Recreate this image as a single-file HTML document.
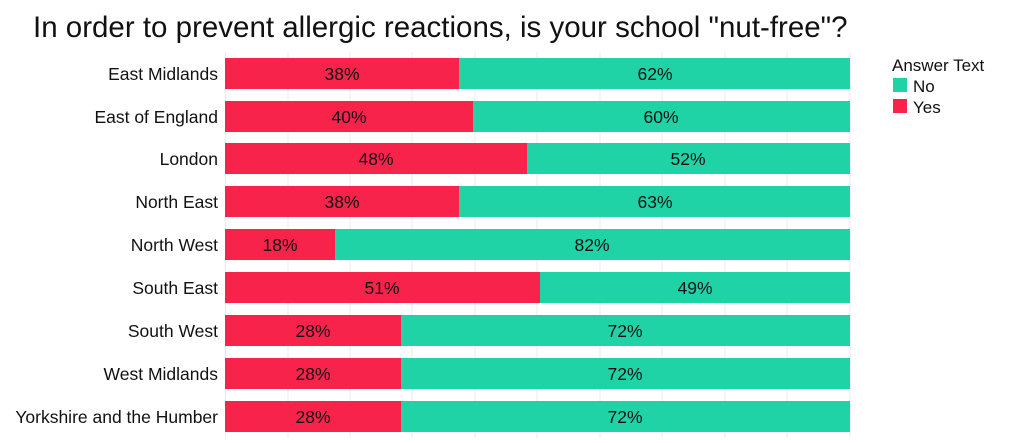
<!DOCTYPE html><html><head><style>body{margin:0;background:#fff;font-family:"Liberation Sans",sans-serif}</style></head><body>
<svg width="1031" height="438" xmlns="http://www.w3.org/2000/svg" font-family="Liberation Sans, sans-serif">
<text x="33" y="37" font-size="29.5" fill="#111">In order to prevent allergic reactions, is your school "nut-free"?</text>
<g stroke="#ebebeb" stroke-width="1">
<line x1="225.5" y1="52" x2="225.5" y2="438"/><line x1="288" y1="52" x2="288" y2="438"/><line x1="350" y1="52" x2="350" y2="438"/><line x1="412" y1="52" x2="412" y2="438"/><line x1="475" y1="52" x2="475" y2="438"/><line x1="537" y1="52" x2="537" y2="438"/><line x1="600" y1="52" x2="600" y2="438"/><line x1="662" y1="52" x2="662" y2="438"/><line x1="725" y1="52" x2="725" y2="438"/><line x1="787" y1="52" x2="787" y2="438"/><line x1="850" y1="52" x2="850" y2="438"/>
</g>
<g font-size="17.5" fill="#111">
<g transform="translate(0,58)"><rect x="225" width="234" height="31" fill="#F7234A"/><rect x="459" width="391" height="31" fill="#1FD3A6"/><text x="342" y="22" text-anchor="middle">38%</text><text x="655" y="22" text-anchor="middle">62%</text><text x="218" y="22" text-anchor="end">East Midlands</text></g>
<g transform="translate(0,101)"><rect x="225" width="248" height="31" fill="#F7234A"/><rect x="473" width="377" height="31" fill="#1FD3A6"/><text x="349" y="22" text-anchor="middle">40%</text><text x="661" y="22" text-anchor="middle">60%</text><text x="218" y="22" text-anchor="end">East of England</text></g>
<g transform="translate(0,143)"><rect x="225" width="302" height="31" fill="#F7234A"/><rect x="527" width="323" height="31" fill="#1FD3A6"/><text x="376" y="22" text-anchor="middle">48%</text><text x="688" y="22" text-anchor="middle">52%</text><text x="218" y="22" text-anchor="end">London</text></g>
<g transform="translate(0,186)"><rect x="225" width="234" height="31" fill="#F7234A"/><rect x="459" width="391" height="31" fill="#1FD3A6"/><text x="342" y="22" text-anchor="middle">38%</text><text x="655" y="22" text-anchor="middle">63%</text><text x="218" y="22" text-anchor="end">North East</text></g>
<g transform="translate(0,229)"><rect x="225" width="110" height="31" fill="#F7234A"/><rect x="335" width="515" height="31" fill="#1FD3A6"/><text x="280" y="22" text-anchor="middle">18%</text><text x="592" y="22" text-anchor="middle">82%</text><text x="218" y="22" text-anchor="end">North West</text></g>
<g transform="translate(0,272)"><rect x="225" width="315" height="31" fill="#F7234A"/><rect x="540" width="310" height="31" fill="#1FD3A6"/><text x="382" y="22" text-anchor="middle">51%</text><text x="695" y="22" text-anchor="middle">49%</text><text x="218" y="22" text-anchor="end">South East</text></g>
<g transform="translate(0,315)"><rect x="225" width="176" height="31" fill="#F7234A"/><rect x="401" width="449" height="31" fill="#1FD3A6"/><text x="313" y="22" text-anchor="middle">28%</text><text x="625" y="22" text-anchor="middle">72%</text><text x="218" y="22" text-anchor="end">South West</text></g>
<g transform="translate(0,358)"><rect x="225" width="176" height="31" fill="#F7234A"/><rect x="401" width="449" height="31" fill="#1FD3A6"/><text x="313" y="22" text-anchor="middle">28%</text><text x="625" y="22" text-anchor="middle">72%</text><text x="218" y="22" text-anchor="end">West Midlands</text></g>
<g transform="translate(0,401)"><rect x="225" width="176" height="31" fill="#F7234A"/><rect x="401" width="449" height="31" fill="#1FD3A6"/><text x="313" y="22" text-anchor="middle">28%</text><text x="625" y="22" text-anchor="middle">72%</text><text x="218" y="22" text-anchor="end">Yorkshire and the Humber</text></g>
</g>
<text x="892" y="71" font-size="17" fill="#111">Answer Text</text>
<rect x="893" y="78" width="14" height="14" fill="#1FD3A6"/><text x="913" y="92" font-size="17" fill="#111">No</text>
<rect x="893" y="99" width="14" height="14" fill="#F7234A"/><text x="913" y="113" font-size="17" fill="#111">Yes</text>
</svg></body></html>
